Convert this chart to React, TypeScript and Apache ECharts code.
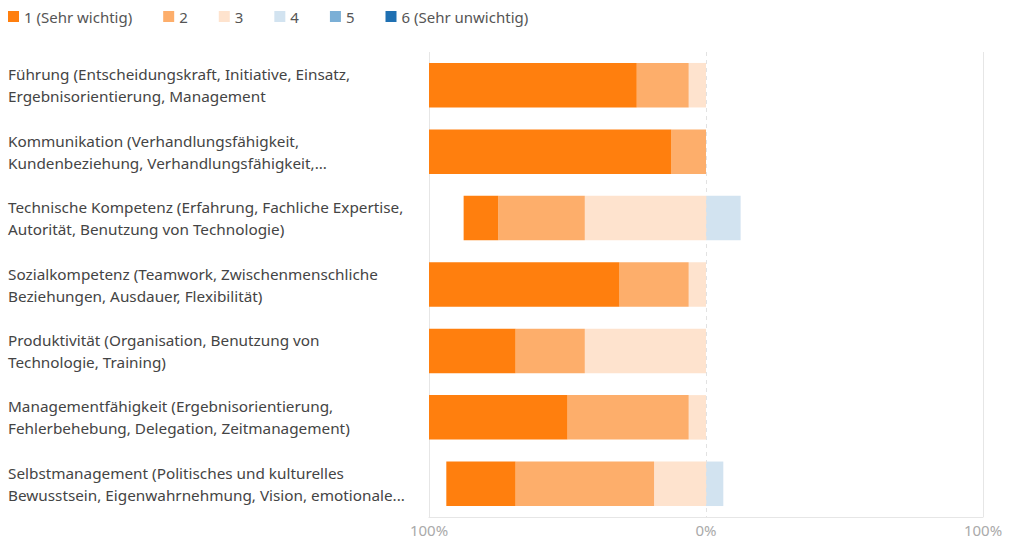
import React, { useEffect, useRef } from "react";
import * as echarts from "echarts";

const categories = [
  "Führung (Entscheidungskraft, Initiative, Einsatz,\nErgebnisorientierung, Management",
  "Kommunikation (Verhandlungsfähigkeit,\nKundenbeziehung, Verhandlungsfähigkeit,...",
  "Technische Kompetenz (Erfahrung, Fachliche Expertise,\nAutorität, Benutzung von Technologie)",
  "Sozialkompetenz (Teamwork, Zwischenmenschliche\nBeziehungen, Ausdauer, Flexibilität)",
  "Produktivität (Organisation, Benutzung von\nTechnologie, Training)",
  "Managementfähigkeit (Ergebnisorientierung,\nFehlerbehebung, Delegation, Zeitmanagement)",
  "Selbstmanagement (Politisches und kulturelles\nBewusstsein, Eigenwahrnehmung, Vision, emotionale...",
];

const seriesNames = ["1 (Sehr wichtig)", "2", "3", "4", "5", "6 (Sehr unwichtig)"];
const colors = ["#FF7F0E", "#FDAE6B", "#FEE3CE", "#D2E3F0", "#7BAFD6", "#1F70B2"];

// percent of responses per rating
const rating1 = [75, 87.5, 12.5, 68.75, 31.25, 50, 25];
const rating2 = [18.75, 12.5, 31.25, 25, 25, 43.75, 50];
const rating3 = [6.25, 0, 43.75, 6.25, 43.75, 6.25, 18.75];
const rating4 = [0, 0, 12.5, 0, 0, 0, 6.25];
const rating5 = [0, 0, 0, 0, 0, 0, 0];
const rating6 = [0, 0, 0, 0, 0, 0, 0];

const xTicks = [-100, 0, 100];

const FONT = "'Noto Sans', 'Open Sans', sans-serif";

export default function App() {
  const ref = useRef<HTMLDivElement>(null);
  useEffect(() => {
    if (!ref.current) return;
    const chart = echarts.init(ref.current, null, { renderer: "svg" });
    const values = [rating1, rating2, rating3, rating4, rating5, rating6];
    const order = [2, 1, 0, 3, 4, 5];
    const series: any[] = order.map((i) => ({
      name: seriesNames[i],
      type: "bar",
      stack: "total",
      barWidth: "67%",
      itemStyle: { color: colors[i] },
      data: values[i].map((v) => (v === 0 ? null : i < 3 ? -v : v)),
    }));
    series[0].markLine = {
      silent: true,
      symbol: "none",
      label: { show: false },
      lineStyle: { color: "#e2e2e2", type: [4, 4], width: 1 },
      data: [{ xAxis: 0 }],
    };
    chart.setOption({
      animation: false,
      textStyle: { fontFamily: FONT },
      color: colors,
      legend: {
        left: 3,
        top: 4,
        icon: "rect",
        itemWidth: 11,
        itemHeight: 11,
        itemGap: 31,
        data: seriesNames,
        textStyle: { fontSize: 15, color: "#555", fontFamily: FONT },
      },
      grid: { left: 429, right: 41, top: 52, bottom: 32, containLabel: false },
      xAxis: {
        type: "value",
        min: -100,
        max: 100,
        interval: 100,
        axisLine: { show: true, lineStyle: { color: "#e6e6e6" } },
        axisTick: { show: false },
        splitLine: {
          show: true,
          lineStyle: { color: ["#e6e6e6", "rgba(0,0,0,0)", "#e6e6e6"], width: 1 },
        },
        axisLabel: {
          color: "#aaa",
          fontSize: 15,
          margin: 5,
          fontFamily: FONT,
          formatter: (v: number) => (xTicks.includes(v) ? Math.abs(v) + "%" : ""),
        },
      },
      yAxis: {
        type: "category",
        inverse: true,
        data: categories,
        axisLine: { show: false },
        axisTick: { show: false },
        axisLabel: {
          align: "left",
          margin: 421,
          fontSize: 15.3,
          lineHeight: 22,
          color: "#444",
          fontFamily: FONT,
        },
      },
      series,
    });
    return () => chart.dispose();
  }, []);
  return <div ref={ref} style={{ width: 1024, height: 549, position: "absolute", left: 0, top: 0 }} />;
}
